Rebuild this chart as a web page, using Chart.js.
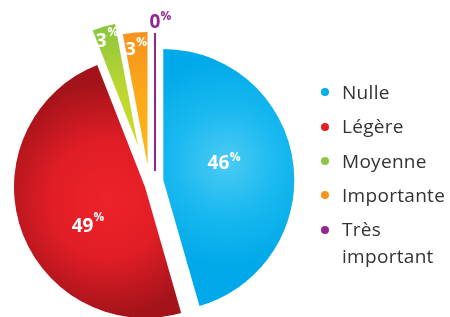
<!DOCTYPE html>
<html><head><meta charset="utf-8">
<script src="https://cdn.jsdelivr.net/npm/chart.js@4.4.0/dist/chart.umd.min.js"></script>
<style>
html,body{margin:0;padding:0;background:#fff;}
#wrap{position:relative;width:450px;height:317px;overflow:hidden;background:#fff;}
canvas{position:absolute;left:0;top:0;}
#legend{position:absolute;left:0;top:0;width:450px;height:317px;font-family:"Open Sans",sans-serif;font-size:19px;letter-spacing:0.3px;color:#333;}
.dot{position:absolute;width:8px;height:8px;border-radius:50%;}
.txt{position:absolute;width:112px;line-height:27px;}
</style>
</head><body>
<div id="wrap"><canvas id="c" width="450" height="317"></canvas><div id="legend"></div></div>
<script>
// ---- data ----
const categories = ["Nulle", "Légère", "Moyenne", "Importante", "Très important"];
const values = [46, 49, 3, 3, 0];
const colors = ["#00aeef", "#e31e25", "#8dc63f", "#f7941d", "#92278f"];

// ---- styles (per slice) ----
const sliceStyle = [
  {shift:[11.3,-2], scale:1.0,   grad:{ca:0.45, cd:0.5, r:0.8, stops:["#4ccbf4","#1ab9f0","#00a9e9"]}, label:{a:0.4415, d:0.442, size:19, ps:12, raise:7.8, gap:0.5, color:"#fff"}},
  {shift:[-7,5],    scale:1.0,   grad:{ca:0.5, cd:0.3, r:0.9, stops:["#ef2229","#e01d25","#a3131a"]}, label:{a:0.428, d:0.558, size:19, ps:12, raise:10.5, gap:0, color:"#fff"}},
  {shift:[-14,-36], scale:0.947, grad:{ca:0.5, cd:0, r:1.0, stops:["#cddc29","#bcd630","#8cc63f"]}, label:{a:0.215, d:0.905, size:19, ps:12, raise:11, gap:0.8, color:"#fff"}},
  {shift:[-4.5,-17],scale:1.015, grad:{ca:0.5, cd:0, r:1.0, stops:["#fdba14","#fbaa18","#f7931e"]}, label:{a:0.23, d:0.883, size:18, ps:12, raise:9.5, gap:0.3, color:"#fff"}},
  {shift:[3,-11],   scale:1.053, grad:null, label:{a:0, d:1.083, size:19, ps:12, raise:8.5, gap:0, color:"#92278f"}}
];

function sliceGeom(arc, i) {
  const p = arc.getProps(['x','y','startAngle','endAngle','outerRadius'], true);
  const st = sliceStyle[i];
  return { p, st, cx: p.x + st.shift[0], cy: p.y + st.shift[1], r: p.outerRadius * st.scale };
}

const explodedSlices = {
  id: 'explodedSlices',
  beforeDatasetDraw(chart, args) {
    const ctx = chart.ctx;
    args.meta.data.forEach((arc, i) => {
      const {p, st, cx, cy, r} = sliceGeom(arc, i);
      ctx.save();
      if (p.endAngle - p.startAngle < 1e-6) {
        ctx.strokeStyle = colors[i];
        ctx.lineWidth = 2;
        ctx.beginPath();
        ctx.moveTo(cx, cy);
        ctx.lineTo(cx + Math.cos(p.startAngle) * r, cy + Math.sin(p.startAngle) * r);
        ctx.stroke();
      } else {
        const g = st.grad;
        const ang = p.startAngle + (p.endAngle - p.startAngle) * g.ca;
        const gx = cx + Math.cos(ang) * g.cd * r, gy = cy + Math.sin(ang) * g.cd * r;
        const grad = ctx.createRadialGradient(gx, gy, 0, gx, gy, g.r * r);
        g.stops.forEach((c, k) => grad.addColorStop(k / (g.stops.length - 1), c));
        ctx.fillStyle = grad;
        ctx.beginPath();
        ctx.moveTo(cx, cy);
        ctx.arc(cx, cy, r, p.startAngle, p.endAngle);
        ctx.closePath();
        ctx.fill();
      }
      ctx.restore();
    });
    return false;
  },
  afterDatasetsDraw(chart) {
    const ctx = chart.ctx;
    chart.getDatasetMeta(0).data.forEach((arc, i) => {
      const {p, st, cx, cy, r} = sliceGeom(arc, i);
      const L = st.label;
      const ang = p.startAngle + (p.endAngle - p.startAngle) * L.a;
      const lx = cx + Math.cos(ang) * L.d * r, ly = cy + Math.sin(ang) * L.d * r;
      const num = String(values[i]);
      ctx.save();
      ctx.fillStyle = L.color;
      ctx.textBaseline = 'alphabetic';
      ctx.textAlign = 'left';
      ctx.font = `700 ${L.size}px "Open Sans"`;
      const w = ctx.measureText(num).width;
      const base = ly + 0.357 * L.size;
      ctx.fillText(num, lx - w / 2, base);
      ctx.font = `700 ${L.ps}px "Open Sans"`;
      ctx.fillText('%', lx + w / 2 + L.gap, base - L.raise);
      ctx.restore();
    });
  }
};

new Chart(document.getElementById('c'), {
  type: 'pie',
  data: {
    labels: categories,
    datasets: [{ data: values, backgroundColor: colors, borderWidth: 0 }]
  },
  options: {
    responsive: false,
    animation: false,
    layout: { padding: { left: 21, top: 51, right: 167, bottom: 4 } },
    plugins: { legend: { display: false }, tooltip: { enabled: false } }
  },
  plugins: [explodedSlices]
});

// ---- HTML legend ----
const legend = document.getElementById('legend');
categories.forEach((name, i) => {
  const capCenter = 92.7 + i * 34.4;
  const dot = document.createElement('div');
  dot.className = 'dot';
  dot.style.background = colors[i];
  dot.style.left = (324.5 - 4) + 'px';
  dot.style.top = (capCenter - 0.5 - 4) + 'px';
  legend.appendChild(dot);
  const t = document.createElement('div');
  t.className = 'txt';
  t.textContent = name;
  t.style.left = '342px';
  t.style.top = (capCenter - 14) + 'px';
  legend.appendChild(t);
});
</script>
</body></html>
